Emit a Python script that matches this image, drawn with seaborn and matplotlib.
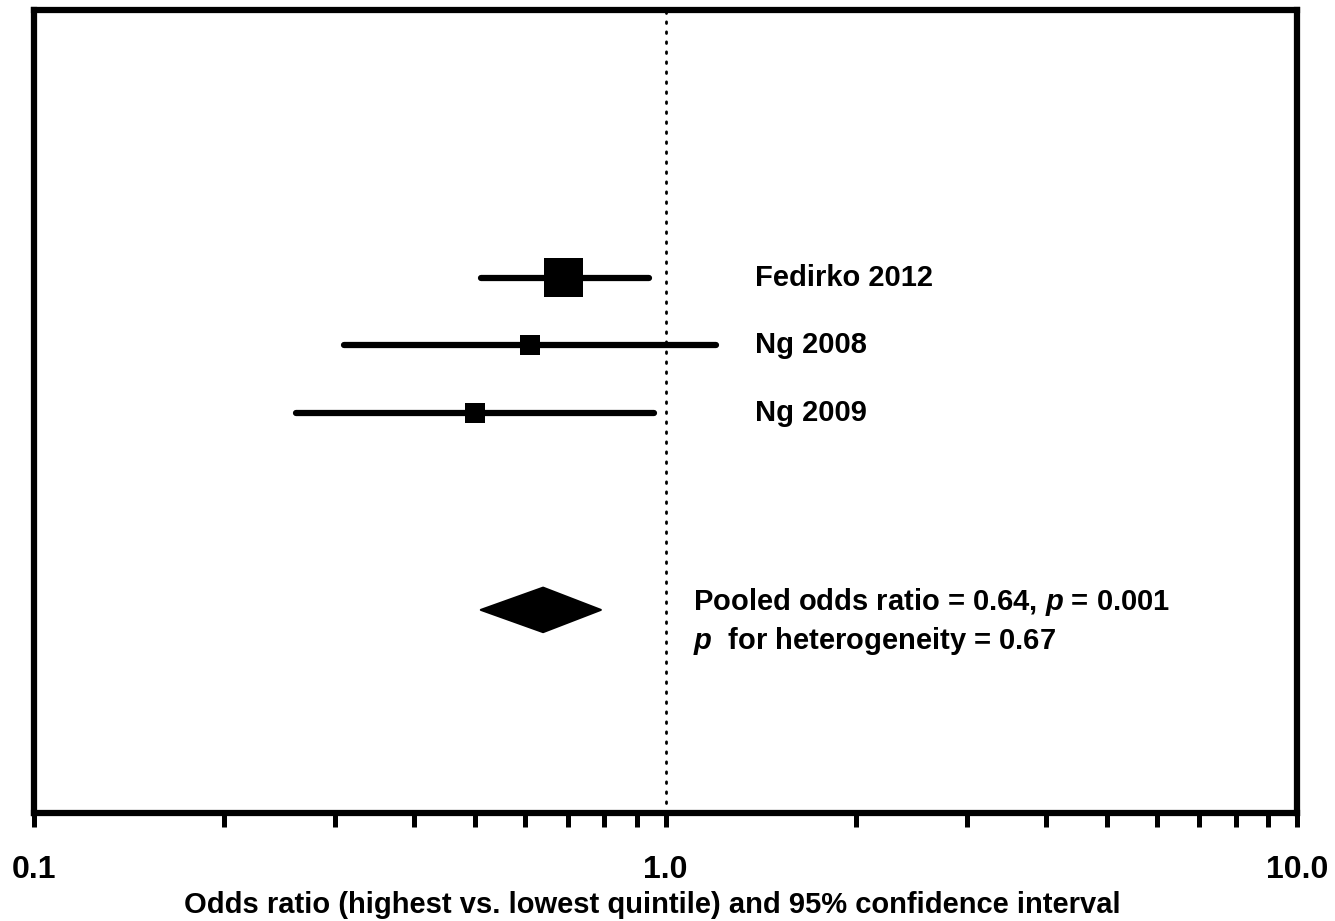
import matplotlib
matplotlib.use("Agg")
import matplotlib.pyplot as plt
from matplotlib.patches import Polygon
from matplotlib.ticker import FixedLocator, FixedFormatter, NullFormatter
import numpy as np
import pandas as pd
import seaborn as sns

# Study-level odds ratios with 95% confidence intervals
studies = ["Fedirko 2012", "Ng 2008", "Ng 2009"]
odds_ratio = [0.69, 0.61, 0.50]
ci_low = [0.51, 0.31, 0.26]
ci_high = [0.94, 1.20, 0.96]

# Pooled estimate
pooled_or = 0.64
pooled_low = 0.51
pooled_high = 0.79
pooled_p = "0.001"
heterogeneity_p = "0.67"

tick_values = [0.1, 1.0, 10.0]
tick_labels = ["0.1", "1.0", "10.0"]
x_label = "Odds ratio (highest vs. lowest quintile) and 95% confidence interval"

sns.set_style("white")
plt.rcParams["font.family"] = ["Liberation Sans", "DejaVu Sans"]
plt.rcParams["font.weight"] = "bold"
plt.rcParams["text.color"] = "black"
plt.rcParams["axes.labelcolor"] = "black"
plt.rcParams["xtick.color"] = "black"
plt.rcParams["mathtext.fontset"] = "custom"
plt.rcParams["mathtext.bfit"] = "Liberation Sans:bold:italic"
plt.rcParams["mathtext.it"] = "Liberation Sans:bold:italic"
plt.rcParams["mathtext.rm"] = "Liberation Sans:bold"

fig = plt.figure(figsize=(13.35, 9.21), dpi=100)
ax = fig.add_axes([0.02547, 0.11726, 0.94607, 0.87188])

df = pd.DataFrame({
    "study": studies,
    "or": odds_ratio,
    "lo": ci_low,
    "hi": ci_high,
    "row": np.arange(len(studies), dtype=float),
})
# marker side length (points) reflecting study weight
box_size = {"Fedirko 2012": 28.0, "Ng 2008": 14.5, "Ng 2009": 14.5}

ax.set_xscale("log")

# reference line at OR = 1
ax.axvline(1.0, color="black", lw=2.0, ls=(0, (0.6, 3.0)),
           dash_capstyle="round", zorder=1)

# confidence interval bars
for _, r in df.iterrows():
    ax.plot([r["lo"], r["hi"]], [r["row"], r["row"]], color="black",
            lw=4.5, solid_capstyle="round", zorder=2)

sns.scatterplot(data=df, x="or", y="row", hue="study", size="study",
                sizes={k: v ** 2 for k, v in box_size.items()},
                palette={k: "black" for k in studies}, marker="s",
                linewidth=0, legend=False, ax=ax, zorder=3)

label_size = 21
trans = ax.get_yaxis_transform()
for _, r in df.iterrows():
    ax.text(0.5709, r["row"], r["study"], transform=trans,
            ha="left", va="center", fontsize=label_size, fontweight="bold")

# pooled diamond
pooled_row = 4.92
half_h = 0.33
diamond = Polygon([(pooled_low, pooled_row), (pooled_or, pooled_row - half_h),
                   (pooled_high, pooled_row), (pooled_or, pooled_row + half_h)],
                  closed=True, facecolor="black", edgecolor="black",
                  lw=1.5, joinstyle="round", zorder=3)
ax.add_patch(diamond)

ax.text(0.5218, 4.81, "Pooled odds ratio = %.2f, $\\mathit{p}$ = %s" % (pooled_or, pooled_p),
        transform=trans, ha="left", va="center", fontsize=label_size, fontweight="bold")
ax.text(0.5218, 5.38, "$\\mathit{p}$  for heterogeneity = %s" % heterogeneity_p,
        transform=trans, ha="left", va="center", fontsize=label_size, fontweight="bold")

ax.set_xlim(0.1, 10.0)
ax.set_ylim(7.93, -3.97)
ax.set_ylabel("")
ax.set_yticks([])

ax.xaxis.set_major_locator(FixedLocator(tick_values))
ax.xaxis.set_major_formatter(FixedFormatter(tick_labels))
minor = [m * d for d in (0.1, 1.0) for m in range(2, 10)]
ax.xaxis.set_minor_locator(FixedLocator(minor))
ax.xaxis.set_minor_formatter(NullFormatter())
ax.tick_params(axis="x", which="both", direction="out", length=10, width=3.6,
               color="black", bottom=True)
ax.tick_params(axis="x", which="major", labelsize=23, pad=20)
for lab in ax.get_xticklabels():
    lab.set_fontweight("bold")

ax.set_xlabel(x_label, fontsize=21, fontweight="bold")
ax.xaxis.label.set_verticalalignment("center")
ax.xaxis.set_label_coords(0.4893, -0.1146)

for s in ax.spines.values():
    s.set_visible(True)
    s.set_color("black")
    s.set_linewidth(4.5)
    s.set_capstyle("projecting")

fig.savefig("out.png", dpi=100, facecolor="white")
